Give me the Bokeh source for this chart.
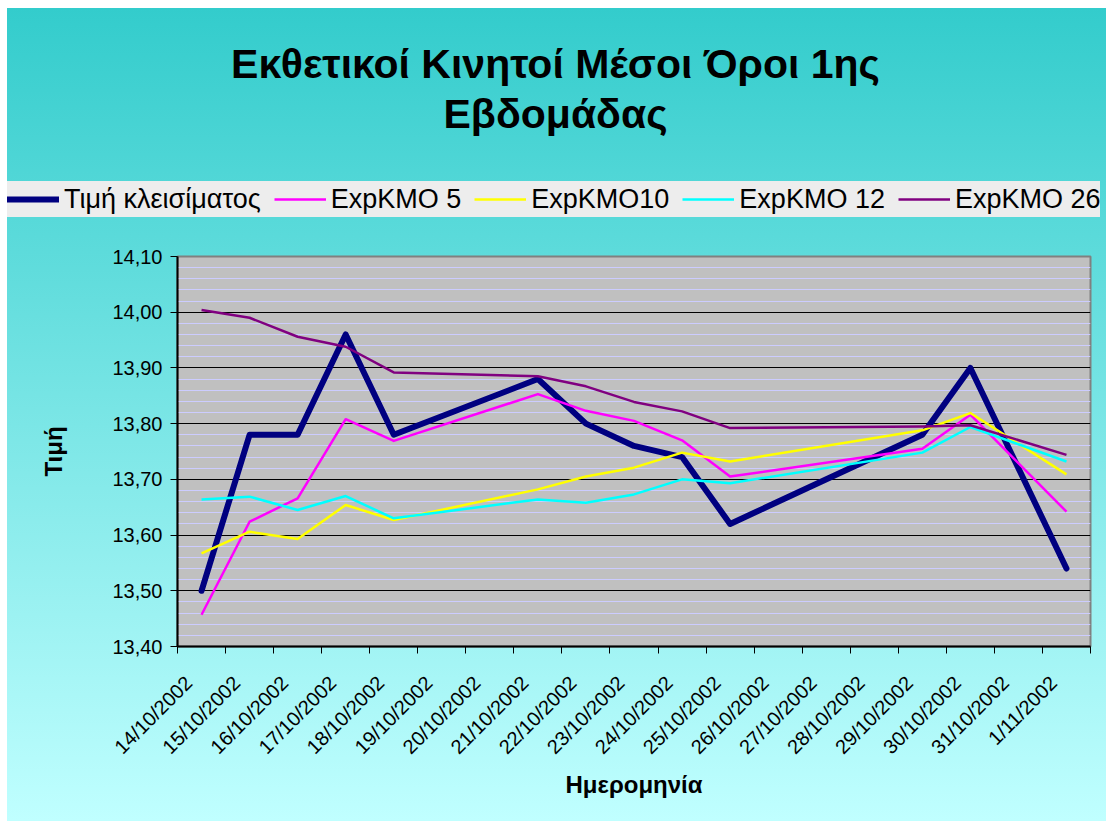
import math
from bokeh.plotting import figure
from bokeh.layouts import column
from bokeh.models import (FixedTicker, CustomJSTickFormatter, Legend, LegendItem,
                          Label, Range1d, ColumnDataSource)
from bokeh.embed import file_html
from bokeh.resources import INLINE

# ---------------- data ----------------
axis_dates = ["14/10/2002", "15/10/2002", "16/10/2002", "17/10/2002", "18/10/2002",
              "19/10/2002", "20/10/2002", "21/10/2002", "22/10/2002", "23/10/2002",
              "24/10/2002", "25/10/2002", "26/10/2002", "27/10/2002", "28/10/2002",
              "29/10/2002", "30/10/2002", "31/10/2002", "1/11/2002"]

dates = ["14/10/2002", "15/10/2002", "16/10/2002", "17/10/2002", "18/10/2002",
         "21/10/2002", "22/10/2002", "23/10/2002", "24/10/2002", "25/10/2002",
         "29/10/2002", "30/10/2002", "1/11/2002"]

close = [13.50, 13.78, 13.78, 13.96, 13.78, 13.88, 13.80, 13.76, 13.74, 13.62, 13.78, 13.90, 13.54]
ema5 = [13.457, 13.624, 13.666, 13.808, 13.769, 13.853, 13.823, 13.805, 13.770, 13.705, 13.755, 13.816, 13.642]
ema10 = [13.567, 13.606, 13.593, 13.654, 13.627, 13.682, 13.705, 13.721, 13.748, 13.732, 13.788, 13.819, 13.709]
ema12 = [13.664, 13.669, 13.645, 13.670, 13.630, 13.664, 13.658, 13.673, 13.700, 13.693, 13.748, 13.794, 13.732]
ema26 = [14.004, 13.990, 13.956, 13.938, 13.892, 13.885, 13.867, 13.839, 13.822, 13.792, 13.795, 13.797, 13.744]

series_names = ["Τιμή κλεισίματος", "ExpKMO 5", "ExpKMO10", "ExpKMO 12", "ExpKMO 26"]
y_ticks = [13.40, 13.50, 13.60, 13.70, 13.80, 13.90, 14.00, 14.10]

title_lines = ["Εκθετικοί Κινητοί Μέσοι Όροι 1ης", "Εβδομάδας"]
x_title = "Ημερομηνία"
y_title = "Τιμή"

# ---------------- styles ----------------
FONT = "Liberation Sans"
colors = ["#000080", "#FF00FF", "#FFFF00", "#00FFFF", "#800080"]
widths = [6, 2.5, 2.5, 2.5, 2.5]
cols = ["close", "ema5", "ema10", "ema12", "ema26"]
LEFT_WHITE = "linear-gradient(to right, #FFFFFF 0px, #FFFFFF 7px, rgba(255,255,255,0) 7px)"

# ---------------- header (title + legend) ----------------
HDR_H = 236
hdr = figure(width=1106, height=HDR_H, output_backend="svg", toolbar_location=None,
             x_range=Range1d(0, 1106), y_range=Range1d(0, HDR_H),
             x_axis_location=None, y_axis_location=None, min_border=0)
hdr.frame_align = False
hdr.title.visible = False
hdr.grid.visible = False
hdr.outline_line_color = None
hdr.background_fill_color = None
hdr.border_fill_color = None
hdr.styles = {"background": LEFT_WHITE + ", linear-gradient(to bottom, #FFFFFF 0px, #FFFFFF 8px, "
                            "#33CCCC 8px, #5ADADA 100%)"}

for txt, cy in zip(title_lines, [63, 113]):
    hdr.add_layout(Label(x=555, y=HDR_H - cy, x_units="screen", y_units="screen", text=txt,
                         text_align="center", text_baseline="middle",
                         text_font=FONT, text_font_size="41px", text_font_style="bold",
                         text_color="black"))

# legend-only renderers (a single NaN point: nothing is drawn in the header)
nan_src = ColumnDataSource(dict(x=[float("nan")], y=[float("nan")]))
hdr_r = [hdr.line("x", "y", source=nan_src, line_color=c, line_width=w,
                  line_cap="round" if w > 3 else "butt") for c, w in zip(colors, widths)]

legend = Legend(items=[LegendItem(label=n, renderers=[r]) for n, r in zip(series_names, hdr_r)],
                orientation="horizontal", location=(7, HDR_H - 217),
                background_fill_color="#EDEDED", background_fill_alpha=1.0,
                border_line_color=None,
                label_text_font=FONT, label_text_font_size="27px", label_text_color="black",
                glyph_width=52, glyph_height=36, label_standoff=5, spacing=13,
                padding=2, margin=0, label_height=36)
hdr.add_layout(legend, "center")

# ---------------- main plot ----------------
x_pos = [axis_dates.index(d) + 0.5 for d in dates]
src = ColumnDataSource(dict(x=x_pos, close=close, ema5=ema5, ema10=ema10, ema12=ema12, ema26=ema26))

p = figure(width=1106, height=821 - HDR_H, output_backend="svg", toolbar_location=None,
           x_range=Range1d(0, len(axis_dates)), y_range=Range1d(y_ticks[0], y_ticks[-1]),
           min_border_left=177, min_border_right=16, min_border_top=256 - HDR_H,
           min_border_bottom=175)
p.frame_align = False
p.title.text = ""
p.title.visible = False
p.background_fill_color = "#C0C0C0"
p.border_fill_color = None
p.outline_line_color = "#808080"
p.outline_line_width = 2
p.styles = {"background": LEFT_WHITE + ", linear-gradient(to bottom, #5ADADA 0%, #C0FFFF 100%)"}

# y axis
minor_y = [round(13.40 + 0.02 * k, 2) for k in range(36) if k % 5 != 0]
p.yaxis.ticker = FixedTicker(ticks=y_ticks, minor_ticks=minor_y)
p.yaxis.formatter = CustomJSTickFormatter(code="return tick.toFixed(2).replace('.', ',');")
p.yaxis.major_label_text_font = FONT
p.yaxis.major_label_text_font_size = "20px"
p.yaxis.major_label_text_color = "black"
p.yaxis.axis_line_color = "black"
p.yaxis.axis_line_width = 2
p.yaxis.major_tick_out = 7
p.yaxis.major_tick_in = 0
p.yaxis.major_tick_line_color = "black"
p.yaxis.minor_tick_line_color = None
p.yaxis.major_label_standoff = 8
p.yaxis.axis_label = y_title
p.yaxis.axis_label_text_font = FONT
p.yaxis.axis_label_text_font_size = "24px"
p.yaxis.axis_label_text_font_style = "bold"
p.yaxis.axis_label_text_color = "black"
p.yaxis.axis_label_standoff = 42

p.ygrid.grid_line_color = "black"
p.ygrid.grid_line_width = 1
p.ygrid.minor_grid_line_color = "#CCCCFF"
p.ygrid.minor_grid_line_width = 1
p.xgrid.visible = False

# x axis: tick marks at day boundaries, labels near day centres
p.xaxis.ticker = FixedTicker(ticks=[i + 0.23 for i in range(len(axis_dates))],
                             minor_ticks=list(range(len(axis_dates) + 1)))
p.xaxis.formatter = CustomJSTickFormatter(args=dict(labels=axis_dates),
                                          code="return labels[Math.floor(tick)] || '';")
p.xaxis.major_label_orientation = math.pi / 4
p.xaxis.major_label_text_font = FONT
p.xaxis.major_label_text_font_size = "20px"
p.xaxis.major_label_text_color = "black"
p.xaxis.major_tick_line_color = None
p.xaxis.major_tick_out = 7
p.xaxis.major_tick_in = 0
p.xaxis.minor_tick_line_color = "black"
p.xaxis.minor_tick_out = 7
p.xaxis.minor_tick_in = 0
p.xaxis.axis_line_color = "black"
p.xaxis.axis_line_width = 2
p.xaxis.major_label_standoff = 26
p.xaxis.axis_label = x_title
p.xaxis.axis_label_text_font = FONT
p.xaxis.axis_label_text_font_size = "24px"
p.xaxis.axis_label_text_font_style = "bold"
p.xaxis.axis_label_text_color = "black"
p.xaxis.axis_label_standoff = 2

for c, col, w in zip(colors, cols, widths):
    p.line("x", col, source=src, line_color=c, line_width=w,
           line_join="round", line_cap="round" if w > 3 else "butt")

layout = column(hdr, p, spacing=0)
open("out.html", "w").write(file_html(layout, INLINE))
